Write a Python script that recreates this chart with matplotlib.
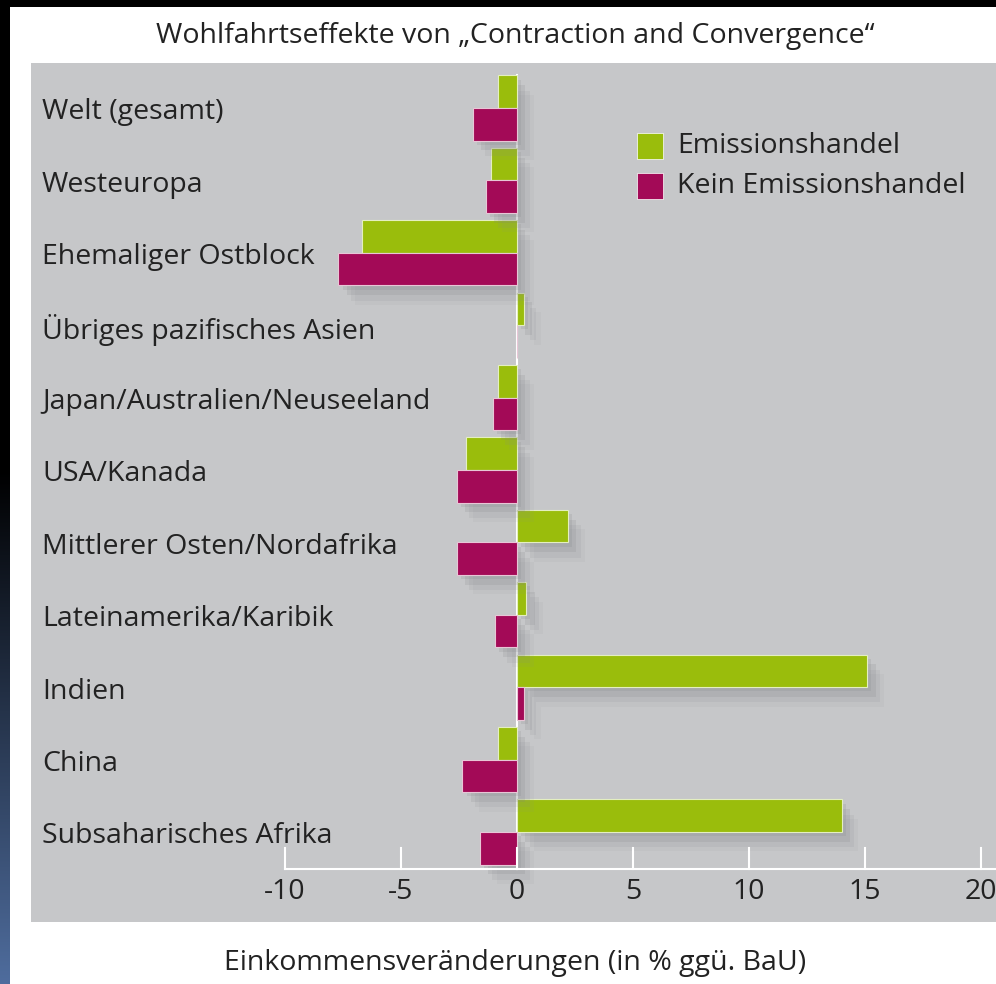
import numpy as np
import matplotlib
matplotlib.use("Agg")
import matplotlib.pyplot as plt
import matplotlib.patheffects as pe

plt.rcParams['font.family'] = ['Open Sans', 'DejaVu Sans']

# Daten
regionen = [
    "Welt (gesamt)",
    "Westeuropa",
    "Ehemaliger Ostblock",
    "Übriges pazifisches Asien",
    "Japan/Australien/Neuseeland",
    "USA/Kanada",
    "Mittlerer Osten/Nordafrika",
    "Lateinamerika/Karibik",
    "Indien",
    "China",
    "Subsaharisches Afrika",
]
emissionshandel = [-0.8, -1.1, -6.7, 0.3, -0.8, -2.2, 2.2, 0.4, 15.1, -0.8, 14.0]
kein_emissionshandel = [-1.9, -1.35, -7.7, 0.0, -1.05, -2.6, -2.6, -0.95, 0.3, -2.35, -1.6]
x_ticks = [-10, -5, 0, 5, 10, 15, 20]

title = "Wohlfahrtseffekte von \u201eContraction and Convergence\u201c"
x_label = "Einkommensveränderungen (in % ggü. BaU)"
legend_labels = ["Emissionshandel", "Kein Emissionshandel"]

GREEN = "#9abd0c"
MAGENTA = "#a30a57"
PANEL = "#c6c7c9"
TEXT = "#222222"
FS = 20.5

W, H = 996, 984
fig = plt.figure(figsize=(W / 100, H / 100), dpi=100)
fig.patch.set_facecolor("white")

# Rahmen: schwarzer Rand oben, Farbverlauf links
bg = fig.add_axes([0, 0, 1, 1], zorder=-10)
bg.set_xlim(0, W)
bg.set_ylim(H, 0)
bg.axis("off")
bg.add_patch(plt.Rectangle((0, 0), W, 7, color="black", lw=0))
grad = np.zeros((H, 1, 3))
t = np.clip((np.arange(H) - 470) / (H - 470), 0, 1)
blue = np.array([0x4f, 0x6d, 0x9e]) / 255
for k in range(3):
    grad[:, 0, k] = t * blue[k]
bg.imshow(grad, extent=(0, 10, H, 0), aspect="auto")
bg.add_patch(plt.Rectangle((0, 0), 10, 7, color="black", lw=0))

# Panel
px0, py0, px1, py1 = 31, 63, 996, 922
ax = fig.add_axes([px0 / W, 1 - py1 / H, (px1 - px0) / W, (py1 - py0) / H])
ax.set_facecolor(PANEL)
for s in ax.spines.values():
    s.set_visible(False)
ax.set_xticks([])
ax.set_yticks([])

x0_px, unit_px = 517, 23.2
row_px, row0_px = 72.4, 108
ax.set_xlim((px0 - x0_px) / unit_px, (px1 - x0_px) / unit_px)
ax.set_ylim((py1 - row0_px) / row_px, (py0 - row0_px) / row_px)

y = np.arange(len(regionen))
h = 0.45
shadow = [pe.SimplePatchShadow(offset=(12, -14), shadow_rgbFace="#8c8e92", alpha=0.08),
          pe.SimplePatchShadow(offset=(9, -11), shadow_rgbFace="#86888c", alpha=0.12),
          pe.SimplePatchShadow(offset=(6, -7), shadow_rgbFace="#7d7f84", alpha=0.16),
          pe.SimplePatchShadow(offset=(3, -3), shadow_rgbFace="#7d7f84", alpha=0.16),
          pe.Normal()]
ax.barh(y - h / 2, emissionshandel, height=h, color=GREEN, edgecolor="#e4efc0",
        linewidth=0.8, zorder=3, path_effects=shadow)
ax.barh(y + h / 2, kein_emissionshandel, height=h, color=MAGENTA, edgecolor="#e8c6d6",
        linewidth=0.8, zorder=3, path_effects=shadow)

# Nulllinie und Achse
y_axis = (869 - row0_px) / row_px
y_tick = (848 - row0_px) / row_px
ax.plot([0, 0], [-0.45, y_axis], color="white", lw=1.5, zorder=2)
ax.plot([x_ticks[0], ax.get_xlim()[1]], [y_axis, y_axis], color="white", lw=1.5, zorder=4)
for xt in x_ticks:
    ax.plot([xt, xt], [y_tick, y_axis], color="white", lw=1.5, zorder=4)
    ax.text(xt, (892 - row0_px) / row_px, str(xt), ha="center", va="center",
            fontsize=20.5, color=TEXT)

# Kategorienbeschriftung
x_lab = (42 - x0_px) / unit_px
for yi, name in zip(y, regionen):
    ax.text(x_lab, yi + 0.06, name, ha="left", va="center", fontsize=FS, color=TEXT)

# Legende
for i, (lab, col) in enumerate(zip(legend_labels, [GREEN, MAGENTA])):
    ly = (146 + 40 * i - row0_px) / row_px
    ax.scatter([(650 - x0_px) / unit_px], [ly], marker="s", s=330, color=col,
               edgecolor="white", linewidth=0.5, zorder=5)
    ax.text((677 - x0_px) / unit_px, ly, lab, ha="left", va="center",
            fontsize=FS, color=TEXT)

fig.text(515 / W, 1 - 36 / H, title, ha="center", va="center", fontsize=FS, color=TEXT)
fig.text(515 / W, 1 - 963 / H, x_label, ha="center", va="center", fontsize=FS, color=TEXT)

fig.savefig("out.png", dpi=100, facecolor=fig.get_facecolor())
